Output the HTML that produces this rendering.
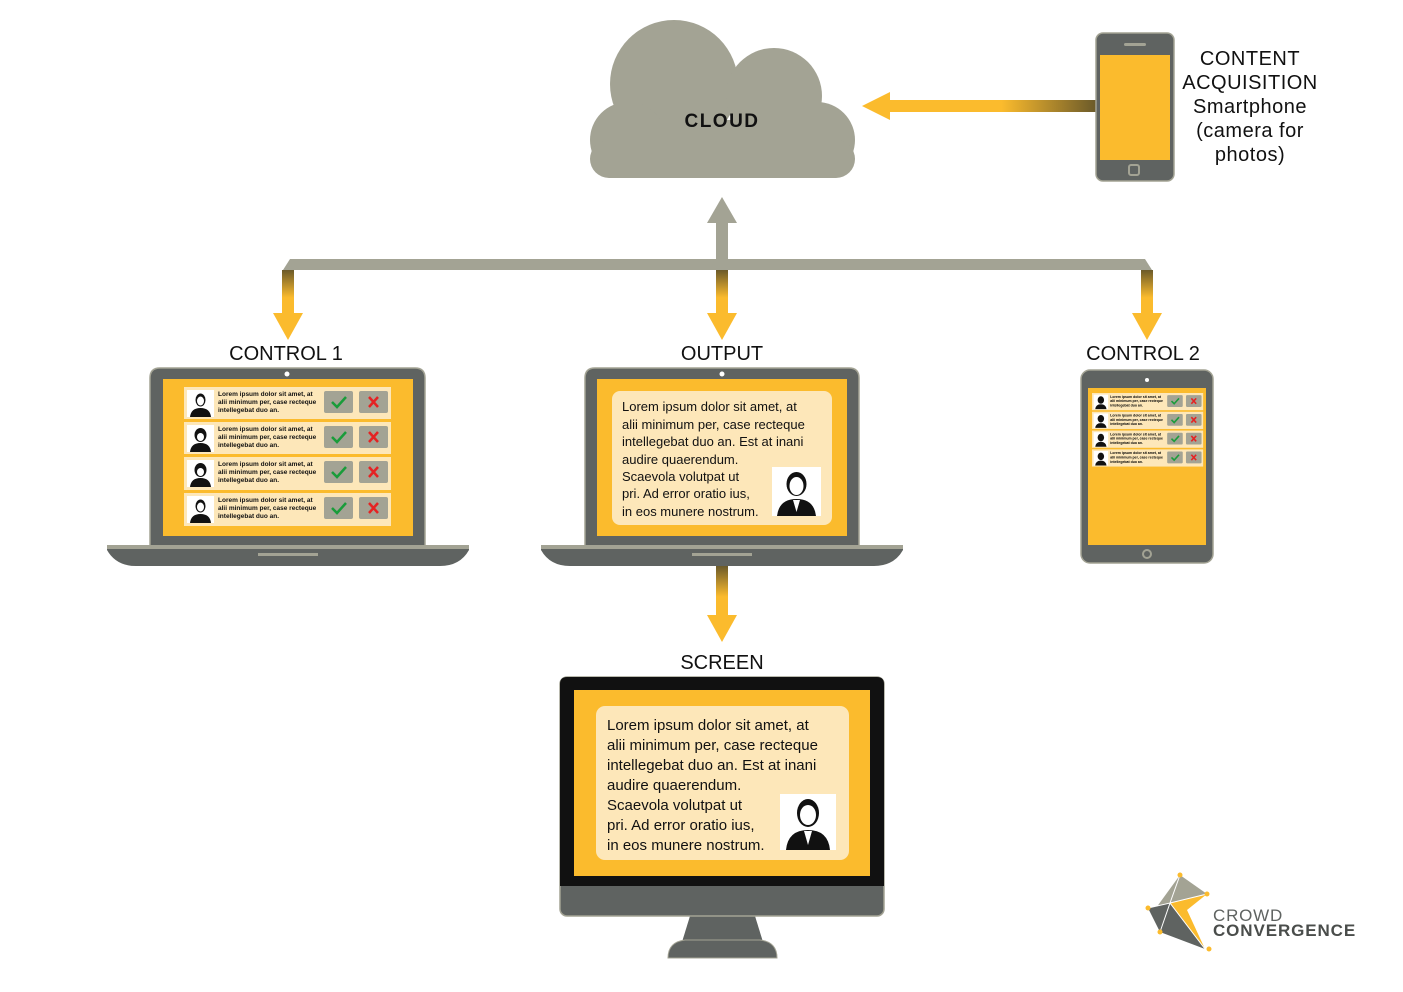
<!DOCTYPE html>
<html><head><meta charset="utf-8"><style>
html,body{margin:0;padding:0;background:#fff}
svg{display:block}
text{font-family:"Liberation Sans",sans-serif}
</style></head><body>
<svg width="1403" height="992" viewBox="0 0 1403 992" xmlns="http://www.w3.org/2000/svg">
<defs>
<linearGradient id="gv" x1="0" y1="0" x2="0" y2="1"><stop offset="0" stop-color="#6b5a2a"/><stop offset="0.6" stop-color="#fbbb2d"/></linearGradient>
<linearGradient id="gh" x1="1" y1="0" x2="0" y2="0"><stop offset="0" stop-color="#6b5a2a"/><stop offset="0.45" stop-color="#fbbb2d"/></linearGradient>
</defs>

<!-- cloud -->
<g fill="#a3a394">
<circle cx="674" cy="84" r="64"/>
<circle cx="774" cy="96" r="48"/>
<circle cx="628" cy="140" r="38"/>
<circle cx="817" cy="140" r="38"/>
<rect x="628" y="120" width="190" height="58"/>
<rect x="590" y="140" width="265" height="38" rx="19"/>
</g>
<rect x="580" y="178" width="290" height="6" fill="#fff"/>
<text x="722" y="127" text-anchor="middle" font-size="19" font-weight="bold" letter-spacing="1.5" fill="#111">CLOUD</text>

<!-- phone arrow -->
<rect x="886" y="100" width="210" height="12" fill="url(#gh)"/>
<polygon points="862,106 890,92 890,120" fill="#fbbb2d"/>
<!-- phone -->
<rect x="1096" y="33" width="78" height="148" rx="7" fill="#5f6361" stroke="#a3a394" stroke-width="1.5"/>
<rect x="1100" y="55" width="70" height="105" fill="#fbbb2d"/>
<rect x="1124" y="43" width="22" height="3" rx="1.5" fill="#a3a394"/>
<rect x="1129" y="165" width="10" height="10" rx="2" fill="none" stroke="#a3a394" stroke-width="2"/>
<g font-size="20" fill="#111" text-anchor="middle" letter-spacing="0.5">
<text x="1250" y="65">CONTENT</text>
<text x="1250" y="89">ACQUISITION</text>
<text x="1250" y="113">Smartphone</text>
<text x="1250" y="137">(camera for</text>
<text x="1250" y="161">photos)</text>
</g>

<!-- up arrow + bar -->
<rect x="716" y="222" width="12" height="40" fill="#a3a394"/>
<polygon points="722,197 737,223 707,223" fill="#a3a394"/>
<polygon points="290,259 1145,259 1152,270 283,270" fill="#a3a394"/>
<!-- down arrows -->
<g fill="url(#gv)">
<rect x="282" y="270" width="12" height="46"/>
<rect x="716" y="270" width="12" height="46"/>
<rect x="1141" y="270" width="12" height="46"/>
</g>
<g fill="#fbbb2d">
<polygon points="273,313 303,313 288,340"/>
<polygon points="707,313 737,313 722,340"/>
<polygon points="1132,313 1162,313 1147,340"/>
</g>
<g font-size="20" fill="#111" text-anchor="middle">
<text x="286" y="360">CONTROL 1</text>
<text x="722" y="360">OUTPUT</text>
<text x="1143" y="360">CONTROL 2</text>
<text x="722" y="669">SCREEN</text>
</g>

<!-- laptop 1 -->
<path d="M150,547 V378 Q150,368 160,368 H415 Q425,368 425,378 V547 Z" fill="#5f6361" stroke="#a3a394" stroke-width="1.5"/>
<circle cx="287" cy="374" r="2.5" fill="#fff"/>
<rect x="163" y="379" width="250" height="157" fill="#fbbb2d"/>
<path d="M107,545 H469 V550 Q460,566 440,566 H136 Q116,566 107,550 Z" fill="#5f6361"/>
<rect x="107" y="545" width="362" height="4" fill="#a3a394"/>
<rect x="258" y="553" width="60" height="3" fill="#a3a394"/>

<g>
<g transform="translate(184,387)">
<rect width="207" height="32" fill="#fde7b9"/><rect x="3" y="3" width="27" height="27" fill="#fff"/>
<ellipse cx="16.5" cy="13" rx="5" ry="6.5" fill="#111"/><ellipse cx="16.5" cy="14" rx="3.5" ry="4.5" fill="#fff"/><path d="M6,30 Q7,21 16.5,21 Q26,21 27,30 Z" fill="#111"/>
<text x="34" y="9" font-size="6.5" font-weight="bold" fill="#111">Lorem ipsum dolor sit amet, at</text>
<text x="34" y="17" font-size="6.5" font-weight="bold" fill="#111">alii minimum per, case recteque</text>
<text x="34" y="25" font-size="6.5" font-weight="bold" fill="#111">intellegebat duo an.</text>
<rect x="140" y="4" width="29" height="22" rx="2" fill="#a3a394"/><path d="M148,15 L153,20 L162,10" stroke="#1a9c3a" stroke-width="2.5" fill="none"/>
<rect x="175" y="4" width="29" height="22" rx="2" fill="#a3a394"/><path d="M185,10 L194,20 M194,10 L185,20" stroke="#e52323" stroke-width="2.5"/>
</g>
<g transform="translate(184,422)">
<rect width="207" height="32" fill="#fde7b9"/><rect x="3" y="3" width="27" height="27" fill="#fff"/>
<ellipse cx="16.5" cy="13" rx="6" ry="7" fill="#111"/><ellipse cx="16.5" cy="15" rx="3.5" ry="4" fill="#fff"/><path d="M6,30 Q7,21 16.5,21 Q26,21 27,30 Z" fill="#111"/>
<text x="34" y="9" font-size="6.5" font-weight="bold" fill="#111">Lorem ipsum dolor sit amet, at</text>
<text x="34" y="17" font-size="6.5" font-weight="bold" fill="#111">alii minimum per, case recteque</text>
<text x="34" y="25" font-size="6.5" font-weight="bold" fill="#111">intellegebat duo an.</text>
<rect x="140" y="4" width="29" height="22" rx="2" fill="#a3a394"/><path d="M148,15 L153,20 L162,10" stroke="#1a9c3a" stroke-width="2.5" fill="none"/>
<rect x="175" y="4" width="29" height="22" rx="2" fill="#a3a394"/><path d="M185,10 L194,20 M194,10 L185,20" stroke="#e52323" stroke-width="2.5"/>
</g>
<g transform="translate(184,457)">
<rect width="207" height="33" fill="#fde7b9"/><rect x="3" y="3" width="27" height="27" fill="#fff"/>
<ellipse cx="16.5" cy="13" rx="6" ry="7" fill="#111"/><ellipse cx="16.5" cy="15" rx="3.5" ry="4" fill="#fff"/><path d="M6,30 Q7,21 16.5,21 Q26,21 27,30 Z" fill="#111"/>
<text x="34" y="9" font-size="6.5" font-weight="bold" fill="#111">Lorem ipsum dolor sit amet, at</text>
<text x="34" y="17" font-size="6.5" font-weight="bold" fill="#111">alii minimum per, case recteque</text>
<text x="34" y="25" font-size="6.5" font-weight="bold" fill="#111">intellegebat duo an.</text>
<rect x="140" y="4" width="29" height="22" rx="2" fill="#a3a394"/><path d="M148,15 L153,20 L162,10" stroke="#1a9c3a" stroke-width="2.5" fill="none"/>
<rect x="175" y="4" width="29" height="22" rx="2" fill="#a3a394"/><path d="M185,10 L194,20 M194,10 L185,20" stroke="#e52323" stroke-width="2.5"/>
</g>
<g transform="translate(184,493)">
<rect width="207" height="33" fill="#fde7b9"/><rect x="3" y="3" width="27" height="27" fill="#fff"/>
<ellipse cx="16.5" cy="13" rx="5" ry="6.5" fill="#111"/><ellipse cx="16.5" cy="14" rx="3.5" ry="4.5" fill="#fff"/><path d="M6,30 Q7,21 16.5,21 Q26,21 27,30 Z" fill="#111"/>
<text x="34" y="9" font-size="6.5" font-weight="bold" fill="#111">Lorem ipsum dolor sit amet, at</text>
<text x="34" y="17" font-size="6.5" font-weight="bold" fill="#111">alii minimum per, case recteque</text>
<text x="34" y="25" font-size="6.5" font-weight="bold" fill="#111">intellegebat duo an.</text>
<rect x="140" y="4" width="29" height="22" rx="2" fill="#a3a394"/><path d="M148,15 L153,20 L162,10" stroke="#1a9c3a" stroke-width="2.5" fill="none"/>
<rect x="175" y="4" width="29" height="22" rx="2" fill="#a3a394"/><path d="M185,10 L194,20 M194,10 L185,20" stroke="#e52323" stroke-width="2.5"/>
</g>
</g>

<!-- laptop 2 -->
<path d="M585,547 V378 Q585,368 595,368 H849 Q859,368 859,378 V547 Z" fill="#5f6361" stroke="#a3a394" stroke-width="1.5"/>
<circle cx="722" cy="374" r="2.5" fill="#fff"/>
<rect x="597" y="379" width="250" height="157" fill="#fbbb2d"/>
<path d="M541,545 H903 V550 Q894,566 874,566 H570 Q550,566 541,550 Z" fill="#5f6361"/>
<rect x="541" y="545" width="362" height="4" fill="#a3a394"/>
<rect x="692" y="553" width="60" height="3" fill="#a3a394"/>
<rect x="612" y="391" width="220" height="134" rx="8" fill="#fde7b9"/>
<g font-size="13" fill="#111">
<text x="622" y="411">Lorem ipsum dolor sit amet, at</text>
<text x="622" y="429">alii minimum per, case recteque</text>
<text x="622" y="446">intellegebat duo an. Est at inani</text>
<text x="622" y="464">audire quaerendum.</text>
<text x="622" y="481">Scaevola volutpat ut</text>
<text x="622" y="498">pri. Ad error oratio ius,</text>
<text x="622" y="516">in eos munere nostrum.</text>
</g>
<rect x="772" y="467" width="49" height="49" fill="#fff"/>
<ellipse cx="796.5" cy="484" rx="10" ry="12" fill="#111"/><ellipse cx="796.5" cy="486" rx="7" ry="9" fill="#fff"/>
<path d="M777,516 Q779,499 796.5,499 Q814,499 816,516 Z" fill="#111"/><path d="M793,500 L796.5,512 L800,500 Z" fill="#fff"/>

<!-- arrow down to screen -->
<rect x="716" y="566" width="12" height="51" fill="url(#gv)"/>
<polygon points="707,615 737,615 722,642" fill="#fbbb2d"/>

<!-- tablet -->
<rect x="1081" y="370" width="132" height="193" rx="9" fill="#5f6361" stroke="#a3a394" stroke-width="1.5"/>
<circle cx="1147" cy="380" r="2" fill="#fff"/>
<rect x="1088" y="388" width="118" height="157" fill="#fbbb2d"/>
<circle cx="1147" cy="554" r="5" fill="#a3a394"/><circle cx="1147" cy="554" r="3" fill="#5f6361"/>
<g transform="translate(1092,393) scale(0.537)">
<g transform="translate(0,0)"><rect width="207" height="32" fill="#fde7b9"/><rect x="3" y="3" width="27" height="27" fill="#fff"/><ellipse cx="16.5" cy="13" rx="6" ry="7" fill="#111"/><path d="M6,30 Q7,21 16.5,21 Q26,21 27,30 Z" fill="#111"/><text x="34" y="9" font-size="6.5" font-weight="bold">Lorem ipsum dolor sit amet, at</text><text x="34" y="17" font-size="6.5" font-weight="bold">alii minimum per, case recteque</text><text x="34" y="25" font-size="6.5" font-weight="bold">intellegebat duo an.</text><rect x="140" y="4" width="29" height="22" rx="2" fill="#a3a394"/><path d="M148,15 L153,20 L162,10" stroke="#1a9c3a" stroke-width="3" fill="none"/><rect x="175" y="4" width="29" height="22" rx="2" fill="#a3a394"/><path d="M185,10 L194,20 M194,10 L185,20" stroke="#e52323" stroke-width="3"/></g>
<g transform="translate(0,35)"><rect width="207" height="32" fill="#fde7b9"/><rect x="3" y="3" width="27" height="27" fill="#fff"/><ellipse cx="16.5" cy="13" rx="6" ry="7" fill="#111"/><path d="M6,30 Q7,21 16.5,21 Q26,21 27,30 Z" fill="#111"/><text x="34" y="9" font-size="6.5" font-weight="bold">Lorem ipsum dolor sit amet, at</text><text x="34" y="17" font-size="6.5" font-weight="bold">alii minimum per, case recteque</text><text x="34" y="25" font-size="6.5" font-weight="bold">intellegebat duo an.</text><rect x="140" y="4" width="29" height="22" rx="2" fill="#a3a394"/><path d="M148,15 L153,20 L162,10" stroke="#1a9c3a" stroke-width="3" fill="none"/><rect x="175" y="4" width="29" height="22" rx="2" fill="#a3a394"/><path d="M185,10 L194,20 M194,10 L185,20" stroke="#e52323" stroke-width="3"/></g>
<g transform="translate(0,70)"><rect width="207" height="32" fill="#fde7b9"/><rect x="3" y="3" width="27" height="27" fill="#fff"/><ellipse cx="16.5" cy="13" rx="6" ry="7" fill="#111"/><path d="M6,30 Q7,21 16.5,21 Q26,21 27,30 Z" fill="#111"/><text x="34" y="9" font-size="6.5" font-weight="bold">Lorem ipsum dolor sit amet, at</text><text x="34" y="17" font-size="6.5" font-weight="bold">alii minimum per, case recteque</text><text x="34" y="25" font-size="6.5" font-weight="bold">intellegebat duo an.</text><rect x="140" y="4" width="29" height="22" rx="2" fill="#a3a394"/><path d="M148,15 L153,20 L162,10" stroke="#1a9c3a" stroke-width="3" fill="none"/><rect x="175" y="4" width="29" height="22" rx="2" fill="#a3a394"/><path d="M185,10 L194,20 M194,10 L185,20" stroke="#e52323" stroke-width="3"/></g>
<g transform="translate(0,105)"><rect width="207" height="32" fill="#fde7b9"/><rect x="3" y="3" width="27" height="27" fill="#fff"/><ellipse cx="16.5" cy="13" rx="6" ry="7" fill="#111"/><path d="M6,30 Q7,21 16.5,21 Q26,21 27,30 Z" fill="#111"/><text x="34" y="9" font-size="6.5" font-weight="bold">Lorem ipsum dolor sit amet, at</text><text x="34" y="17" font-size="6.5" font-weight="bold">alii minimum per, case recteque</text><text x="34" y="25" font-size="6.5" font-weight="bold">intellegebat duo an.</text><rect x="140" y="4" width="29" height="22" rx="2" fill="#a3a394"/><path d="M148,15 L153,20 L162,10" stroke="#1a9c3a" stroke-width="3" fill="none"/><rect x="175" y="4" width="29" height="22" rx="2" fill="#a3a394"/><path d="M185,10 L194,20 M194,10 L185,20" stroke="#e52323" stroke-width="3"/></g>
</g>

<!-- monitor -->
<path d="M690,916 H755 L763,942 H682 Z" fill="#5f6361"/>
<path d="M668,958 Q668,942 685,940 H760 Q777,942 777,958 Z" fill="#5f6361" stroke="#a3a394" stroke-width="1"/>
<rect x="560" y="677" width="324" height="239" rx="7" fill="#5f6361" stroke="#a3a394" stroke-width="1.5"/>
<path d="M560,886 V684 Q560,677 567,677 H877 Q884,677 884,684 V886 Z" fill="#111"/>
<rect x="574" y="690" width="296" height="186" fill="#fbbb2d"/>
<rect x="596" y="706" width="253" height="154" rx="9" fill="#fde7b9"/>
<g font-size="15" fill="#111">
<text x="607" y="730">Lorem ipsum dolor sit amet, at</text>
<text x="607" y="750">alii minimum per, case recteque</text>
<text x="607" y="770">intellegebat duo an. Est at inani</text>
<text x="607" y="790">audire quaerendum.</text>
<text x="607" y="810">Scaevola volutpat ut</text>
<text x="607" y="830">pri. Ad error oratio ius,</text>
<text x="607" y="850">in eos munere nostrum.</text>
</g>
<rect x="780" y="794" width="56" height="56" fill="#fff"/>
<ellipse cx="808" cy="813" rx="11" ry="14" fill="#111"/><ellipse cx="808" cy="815" rx="8" ry="10" fill="#fff"/>
<path d="M786,850 Q788,830 808,830 Q828,830 830,850 Z" fill="#111"/><path d="M804,831 L808,845 L812,831 Z" fill="#fff"/>

<!-- logo -->
<polygon points="1180,875 1207,894 1170,903 1156,908" fill="#a3a394"/>
<polygon points="1148,908 1170,903 1205,949 1160,932" fill="#5f6361"/>
<polygon points="1170,903 1207,894 1187,910 1205,949" fill="#fbbb2d"/>
<g stroke="#fff" stroke-width="1" fill="none"><path d="M1180,875 L1170,903 L1205,949 M1148,908 L1170,903 L1160,932 M1170,903 L1207,894"/></g>
<g fill="#fbbb2d"><circle cx="1180" cy="875" r="2.5"/><circle cx="1207" cy="894" r="2.5"/><circle cx="1148" cy="908" r="2.5"/><circle cx="1160" cy="932" r="2.5"/><circle cx="1209" cy="949" r="2.5"/></g>
<text x="1213" y="921" font-size="17" fill="#5f6361" letter-spacing="0.8">CROWD</text>
<text x="1213" y="936" font-size="17" font-weight="bold" fill="#4a4d4b" letter-spacing="0.9">CONVERGENCE</text>
</svg>
</body></html>
